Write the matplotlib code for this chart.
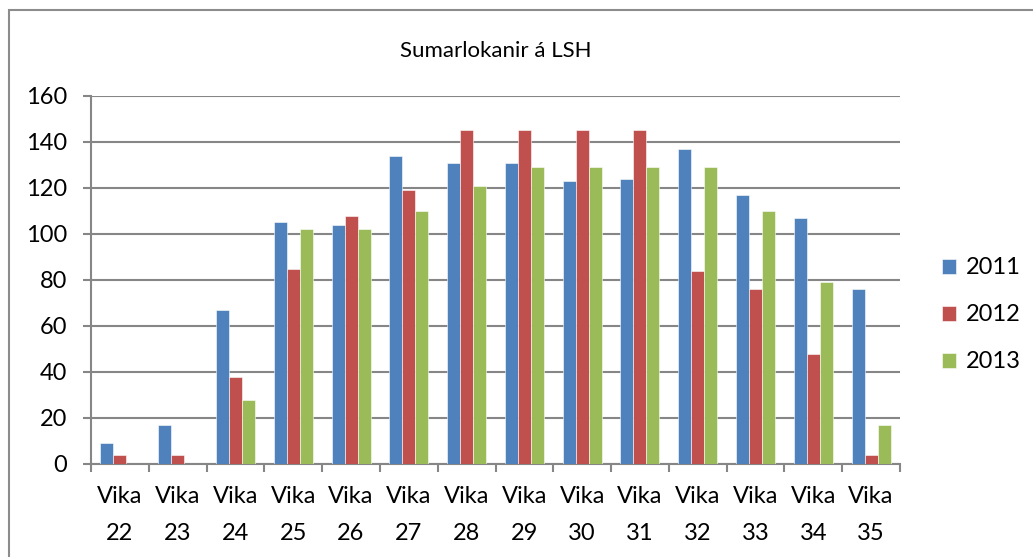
import matplotlib.pyplot as plt
import numpy as np
from matplotlib.patches import Rectangle

plt.rcParams['font.family'] = ['Lato', 'DejaVu Sans']

weeks = ['22', '23', '24', '25', '26', '27', '28', '29', '30', '31', '32', '33', '34', '35']
labels = ['Vika\n' + w for w in weeks]
years = ['2011', '2012', '2013']
v2011 = [9, 17, 67, 105, 104, 134, 131, 131, 123, 124, 137, 117, 107, 76]
v2012 = [4, 4, 38, 85, 108, 119, 145, 145, 145, 145, 84, 76, 48, 4]
v2013 = [0, 0, 28, 102, 102, 110, 121, 129, 129, 129, 129, 110, 79, 17]
colors = ['#4F81BD', '#C0504D', '#9BBB59']

fig = plt.figure(figsize=(10.33, 5.57), dpi=100)
ax = fig.add_axes([91 / 1033, 1 - 464 / 557, (900 - 91) / 1033, (464 - 96) / 557])

# chart frame (only left and top visible in the original)
fig.patches.append(Rectangle((9 / 1033, -0.1), 1.1, 1 - 10 / 557 + 0.1,
                             transform=fig.transFigure, fill=False,
                             edgecolor='#8c8c8c', linewidth=1.5))

x = np.arange(len(weeks))
bar_width = 0.225
for i, (vals, c, y) in enumerate(zip([v2011, v2012, v2013], colors, years)):
    ax.bar(x + (i - 1) * bar_width, vals, width=bar_width, color=c,
           edgecolor='#ffffff', linewidth=0.4, label=y, zorder=3)

ax.set_xlim(-0.5, len(weeks) - 0.5)
ax.set_ylim(0, 160)
ax.set_yticks(range(0, 161, 20))
ax.yaxis.grid(True, color='#868686', linewidth=1.5, zorder=0)
ax.set_axisbelow(True)

ax.set_xticks(np.arange(-0.5, len(weeks), 1.0))
ax.set_xticklabels([])
ax.set_xticks(x, minor=True)
ax.set_xticklabels(labels, minor=True, fontsize=17, linespacing=1.9)
ax.tick_params(axis='x', which='major', length=6, width=1.5, color='#868686', direction='out')
ax.tick_params(axis='x', which='minor', length=0, pad=16)
ax.tick_params(axis='y', length=6, width=1.5, color='#868686', labelsize=17, pad=11)

for s in ['top', 'right']:
    ax.spines[s].set_visible(False)
for s in ['left', 'bottom']:
    ax.spines[s].set_color('#868686')
    ax.spines[s].set_linewidth(1.5)

ax.set_title('Sumarlokanir á LSH', fontsize=16, pad=28)

ax.legend(loc='center left', bbox_to_anchor=(1.04, 0.405), frameon=False,
          fontsize=17, handlelength=0.6, handleheight=0.6, labelspacing=1.1,
          handletextpad=0.4, borderaxespad=0)

plt.savefig('out.png', dpi=100)
